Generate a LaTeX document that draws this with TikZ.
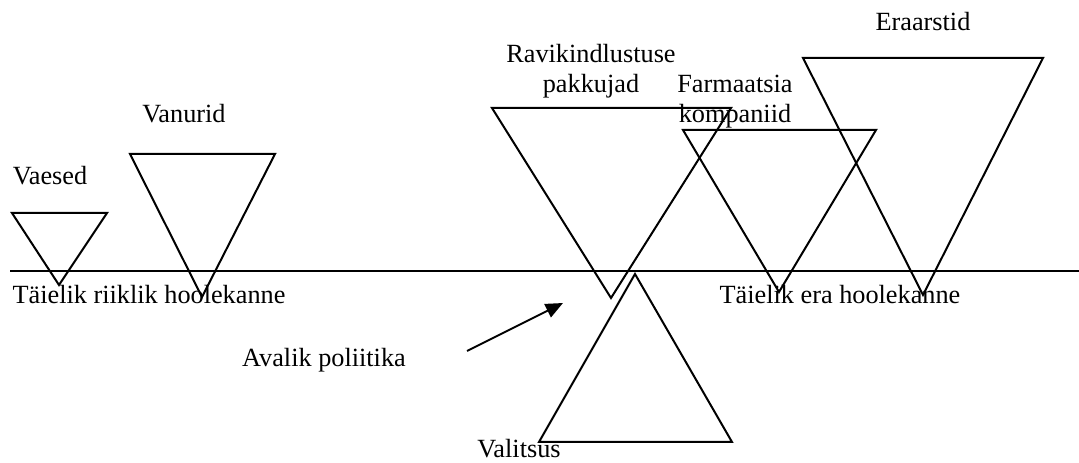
\documentclass[tikz,border=0pt]{standalone}
\usepackage{fontspec}
\setmainfont{Liberation Serif}
\usetikzlibrary{arrows.meta}

\tikzset{
    lbl/.style={font=\fontsize{19.7}{22.5}\selectfont, align=center, inner sep=0pt, anchor=base},
}

\begin{document}
\begin{tikzpicture}[x=0.75pt,y=-0.75pt,line width=1.5pt]
    \useasboundingbox (0,0) rectangle (1079,463);
    \draw (10,271) -- (1079,271); % Scale line
    % Groups above the line
    \draw (12,213) -- (107,213) -- (59,285) -- cycle;
    \draw (130,154) -- (275,154) -- (202,297) -- cycle;
    \draw (492,108) -- (731,108) -- (611,298) -- cycle;
    \draw (683,130) -- (876,130) -- (779,292) -- cycle;
    \draw (803,58) -- (1043,58) -- (923,295) -- cycle;
    % Government below the line
    \draw (635,274) -- (539,442) -- (732,442) -- cycle;
    % Labels
    \node[lbl] (vaesed) at (50,185) {Vaesed};
    \node[lbl] (vanurid) at (184,123) {Vanurid};
    \node[lbl] (ravi) at (591,93) {Ravikindlustuse\\pakkujad};
    \node[lbl] (farma) at (735,123) {Farmaatsia\\kompaniid};
    \node[lbl] (eraarstid) at (923,31) {Eraarstid};
    \node[lbl] (riiklik) at (149,304) {Täielik riiklik hoolekanne};
    \node[lbl] (era) at (840,304) {Täielik era hoolekanne};
    \node[lbl] (poliitika) at (324,367) {Avalik poliitika};
    \node[lbl] (valitsus) at (519,458) {Valitsus};
    % Arrow
    \coordinate (arrowtail) at (467,351);
    \coordinate (arrowtip) at (563,303);
    \draw[-{Triangle[length=13pt,width=11pt]}] (arrowtail) -- (arrowtip);
\end{tikzpicture}
\end{document}
